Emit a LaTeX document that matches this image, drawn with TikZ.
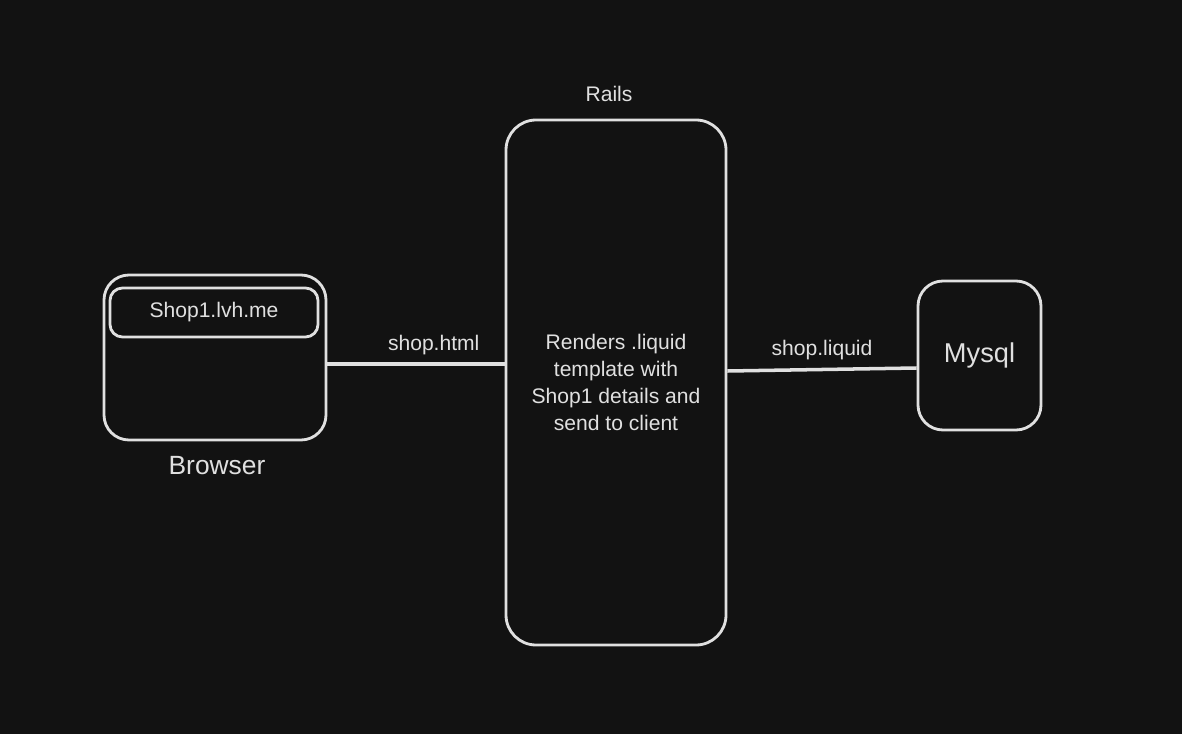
\documentclass[tikz,border=0pt]{standalone}
\usepackage{fontspec}
\setmainfont{Liberation Sans}
\usetikzlibrary{positioning}
\definecolor{bgdark}{HTML}{121212}
\definecolor{chalk}{HTML}{E0E0E0}
\tikzset{
	sketchbox/.style={draw=chalk, line width=1.6pt, rounded corners=0.5cm, inner sep=0pt},
	link/.style={draw=chalk, line width=2pt},
	chalktext/.style={text=chalk, font=\fontsize{12}{15.3}\selectfont}
}

\begin{document}
\begin{tikzpicture}
	%%%%% START %%%%%
	
	\fill[bgdark] (0, 0) rectangle (23.64, 14.68);
	\useasboundingbox (0, 0) rectangle (23.64, 14.68);
	
	\node[sketchbox, minimum width=4.44cm, minimum height=3.3cm] (browser) at (4.3, 7.53) {};
	\node[sketchbox, rounded corners=0.25cm, minimum width=4.16cm, minimum height=0.98cm, chalktext] (url) at (4.28, 8.43) {\raisebox{-0.04cm}{Shop1.lvh.me}};
	\node[chalktext, font=\fontsize{15}{18}\selectfont, below=0.18cm of browser.south, xshift=0.04cm] (browsername) {Browser};
	
	\node[sketchbox, rounded corners=0.6cm, minimum width=4.4cm, minimum height=10.5cm, chalktext, align=center] (rails) at (12.32, 7.03) {Renders .liquid\\template with\\Shop1 details and\\send to client};
	\node[chalktext, above=0.22cm of rails.north, xshift=-0.14cm] (railsname) {Rails};
	
	\node[sketchbox, minimum width=2.46cm, minimum height=2.98cm, chalktext, font=\fontsize{15.5}{18}\selectfont] (mysql) at (19.59, 7.57) {Mysql};
	
	\draw[link] (browser.east |- 0, 7.4) -- node[chalktext, above=1pt, pos=0.6] (html) {shop.html} (rails.west |- 0, 7.4);
	\draw[link] (rails.east |- 0, 7.26) -- node[chalktext, above=1pt] (liquid) {shop.liquid} (mysql.west |- 0, 7.32);
	
	%%%%% END %%%%%
\end{tikzpicture}
\end{document}
